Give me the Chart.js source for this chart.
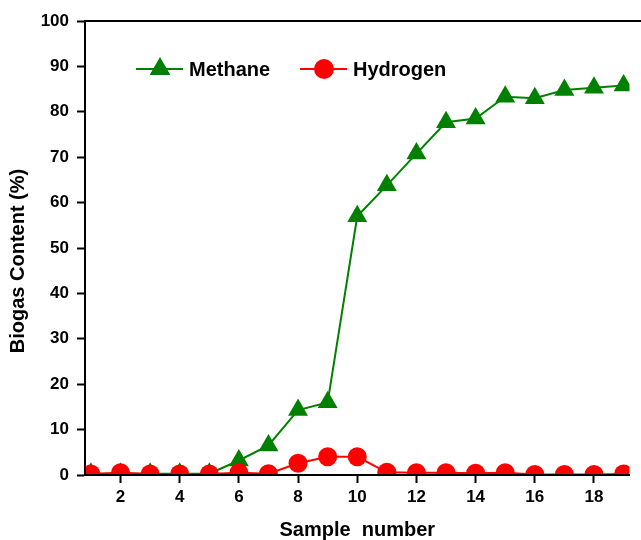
<!DOCTYPE html>
<html>
<head>
<meta charset="utf-8">
<script src="https://cdn.jsdelivr.net/npm/chart.js@4/dist/chart.umd.min.js"></script>
<style>
  html, body { margin: 0; padding: 0; background: #fff; overflow: hidden; }
  #wrap { width: 641px; height: 540px; }
</style>
</head>
<body>
<div id="wrap"><canvas id="biogasChart"></canvas></div>
<script>
        const samples = [1, 2, 3, 4, 5, 6, 7, 8, 9, 10, 11, 12, 13, 14, 15, 16, 17, 18, 19];
        const methane = [0.3, 0.3, 0.3, 0.3, 0.3, 3.2, 6.5, 14.3, 16.0, 57.0, 63.8, 70.8, 77.7, 78.5, 83.3, 83.0, 84.8, 85.3, 85.8];
        const hydrogen = [0.2, 0.5, 0.2, 0.2, 0.2, 0.5, 0.3, 2.6, 4.0, 4.0, 0.6, 0.5, 0.5, 0.4, 0.5, 0.1, 0.1, 0.1, 0.2];
        const xTicks = [2, 4, 6, 8, 10, 12, 14, 16, 18];

        const fontFamily = '"Liberation Sans", Arial, sans-serif';
        const chartCanvas = document.getElementById('biogasChart');

        function toPoints(values) {
            return samples.map((s, i) => ({ x: s, y: values[i] }));
        }

        // top frame line of the plot box
        const frameTop = {
            id: 'frameTop',
            afterDraw(chart) {
                const ctx = chart.ctx;
                const a = chart.chartArea;
                ctx.save();
                ctx.strokeStyle = '#000';
                ctx.lineWidth = 2;
                ctx.beginPath();
                ctx.moveTo(a.left - 1, a.top);
                ctx.lineTo(chart.width, a.top);
                ctx.stroke();
                ctx.restore();
            }
        };

        function drawMarker(ctx, style, r, x, y) {
            ctx.beginPath();
            if (style === 'triangle') {
                ctx.moveTo(x, y - r);
                ctx.lineTo(x + r * Math.sin(Math.PI / 3), y + r / 2);
                ctx.lineTo(x - r * Math.sin(Math.PI / 3), y + r / 2);
                ctx.closePath();
            } else {
                ctx.arc(x, y, r, 0, Math.PI * 2);
            }
            ctx.fill();
        }

        // legend sits inside the plot, line + marker + label
        const insideLegend = {
            id: 'insideLegend',
            afterDraw(chart) {
                const ctx = chart.ctx;
                const a = chart.chartArea;
                const y = a.top + 48;
                ctx.save();
                ctx.font = 'bold 20px ' + fontFamily;
                ctx.textBaseline = 'middle';
                ctx.textAlign = 'left';
                chart.data.datasets.forEach((ds, i) => {
                    const x0 = a.left + 51 + i * 164;
                    ctx.strokeStyle = ds.borderColor;
                    ctx.fillStyle = ds.backgroundColor;
                    ctx.lineWidth = 2;
                    ctx.beginPath();
                    ctx.moveTo(x0, y);
                    ctx.lineTo(x0 + 47, y);
                    ctx.stroke();
                    drawMarker(ctx, ds.pointStyle, ds.pointRadius + 0.5, x0 + 24, y);
                    ctx.fillStyle = '#000';
                    ctx.fillText(ds.label, x0 + 53, y + 1);
                });
                ctx.restore();
            }
        };

        const yTitle = {
            id: 'yTitle',
            afterDraw(chart) {
                const ctx = chart.ctx;
                const a = chart.chartArea;
                ctx.save();
                ctx.translate(18, (a.top + a.bottom) / 2 + 13);
                ctx.rotate(-Math.PI / 2);
                ctx.font = 'bold 20px ' + fontFamily;
                ctx.fillStyle = '#000';
                ctx.textAlign = 'center';
                ctx.textBaseline = 'middle';
                ctx.fillText('Biogas Content (%)', 0, 0);
                ctx.restore();
            }
        };

        const tickFont = { family: fontFamily, size: 17, weight: 'bold' };

        new Chart(chartCanvas, {
            type: 'line',
            data: {
                datasets: [{
                    label: 'Methane',
                    data: toPoints(methane),
                    borderColor: '#008000',
                    backgroundColor: '#008000',
                    borderWidth: 2,
                    pointStyle: 'triangle',
                    pointRadius: 11.5,
                    pointBorderWidth: 0,
                    tension: 0,
                    clip: 0,
                    order: 1
                }, {
                    label: 'Hydrogen',
                    data: toPoints(hydrogen),
                    borderColor: '#ff0000',
                    backgroundColor: '#ff0000',
                    borderWidth: 2,
                    pointStyle: 'circle',
                    pointRadius: 9.5,
                    pointBorderWidth: 0,
                    tension: 0,
                    clip: 0,
                    order: 0
                }]
            },
            options: {
                responsive: true,
                maintainAspectRatio: false,
                animation: false,
                events: [],
                layout: { padding: { top: 21, right: 0, bottom: 0, left: 0 } },
                plugins: {
                    legend: { display: false },
                    tooltip: { enabled: false }
                },
                scales: {
                    x: {
                        type: 'linear',
                        min: 0.8,
                        max: 19.2,
                        afterBuildTicks: scale => { scale.ticks = xTicks.map(v => ({ value: v })); },
                        afterFit: scale => { scale.height = 65; },
                        grid: { drawOnChartArea: false, drawTicks: true, tickLength: 8, tickColor: '#000', tickWidth: 2 },
                        border: { display: true, color: '#000', width: 2, z: 1 },
                        ticks: { color: '#000', font: tickFont, padding: 4, maxRotation: 0, autoSkip: false },
                        title: {
                            display: true,
                            text: 'Sample  number',
                            color: '#000',
                            font: { family: fontFamily, size: 20, weight: 'bold', lineHeight: 1 },
                            padding: { top: 0, bottom: 0 }
                        }
                    },
                    y: {
                        min: 0,
                        max: 100,
                        afterFit: scale => { scale.width = 85; },
                        grid: { drawOnChartArea: false, drawTicks: true, tickLength: 8, tickColor: '#000', tickWidth: 2 },
                        border: { display: true, color: '#000', width: 2, z: 1 },
                        ticks: { color: '#000', font: tickFont, stepSize: 10, padding: 8 },
                        title: { display: false }
                    }
                }
            },
            plugins: [frameTop, insideLegend, yTitle]
        });
</script>
</body>
</html>
